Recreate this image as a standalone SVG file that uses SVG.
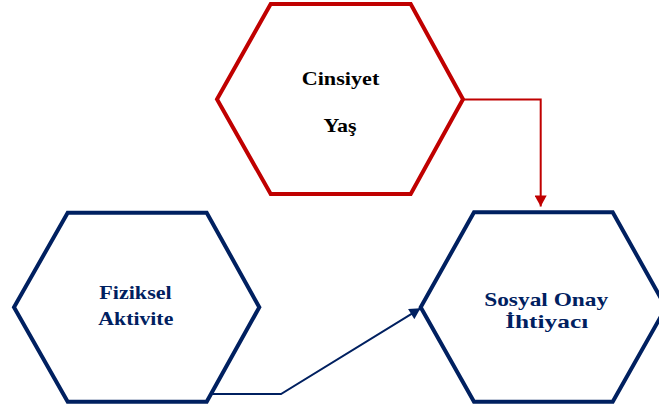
<svg xmlns="http://www.w3.org/2000/svg" width="659" height="410" viewBox="0 0 659 410">
<style>
.hexr{fill:#fff;stroke:#C00000;stroke-width:4;stroke-linejoin:miter}
.hexb{fill:#fff;stroke:#002060;stroke-width:4;stroke-linejoin:miter}
.t{font-family:"Liberation Serif","Times New Roman",serif;font-weight:bold;font-size:19px;text-anchor:middle}
.tb{fill:#002060}
.tk{fill:#000}
.cr{fill:none;stroke:#C00000;stroke-width:2}
.cb{fill:none;stroke:#002060;stroke-width:2}
</style>
<defs>
<marker id="ar" markerUnits="userSpaceOnUse" markerWidth="12" markerHeight="12" viewBox="0 0 10 11" refX="10" refY="5.5" orient="auto">
<path d="M0,0 L10,5.5 L0,11 Z" fill="#C00000"/>
</marker>
<marker id="ab" markerUnits="userSpaceOnUse" markerWidth="12" markerHeight="12" viewBox="0 0 10 11" refX="10" refY="5.5" orient="auto">
<path d="M0,0 L10,5.5 L0,11 Z" fill="#002060"/>
</marker>
</defs>
<rect width="659" height="410" fill="#fff"/>
<g id="connectors">
<path class="cr" d="M463,99.5 H540.7 V206.5" marker-end="url(#ar)"/>
<path class="cb" d="M210,394 H281 L420.5,308.3" marker-end="url(#ab)"/>
</g>
<g id="node-demografi">
<polygon class="hexr" points="270.7,4 410.7,4 463,99.3 410.7,194 270.7,194 217,99.3"/>
<text class="t tk" x="340.5" y="85" textLength="77.6" lengthAdjust="spacingAndGlyphs">Cinsiyet</text>
<text class="t tk" x="340" y="131.5" textLength="33" lengthAdjust="spacingAndGlyphs">Yaş</text>
</g>
<g id="node-fiziksel">
<polygon class="hexb" points="67.7,212.7 206.7,212.7 259.3,307.3 206.7,401.7 67.7,401.7 14,307.3"/>
<text class="t tb" x="135.5" y="299.3" textLength="72.4" lengthAdjust="spacingAndGlyphs">Fiziksel</text>
<text class="t tb" x="135.8" y="325" textLength="75" lengthAdjust="spacingAndGlyphs">Aktivite</text>
</g>
<g id="node-sosyal">
<polygon class="hexb" points="474,212.3 612.7,212.3 666,307.3 612.7,401.7 474,401.7 420.7,307.3"/>
<text class="t tb" x="546.2" y="305.5" textLength="124" lengthAdjust="spacingAndGlyphs">Sosyal Onay</text>
<text class="t tb" x="546.7" y="328" textLength="83" lengthAdjust="spacingAndGlyphs">İhtiyacı</text>
</g>
</svg>
